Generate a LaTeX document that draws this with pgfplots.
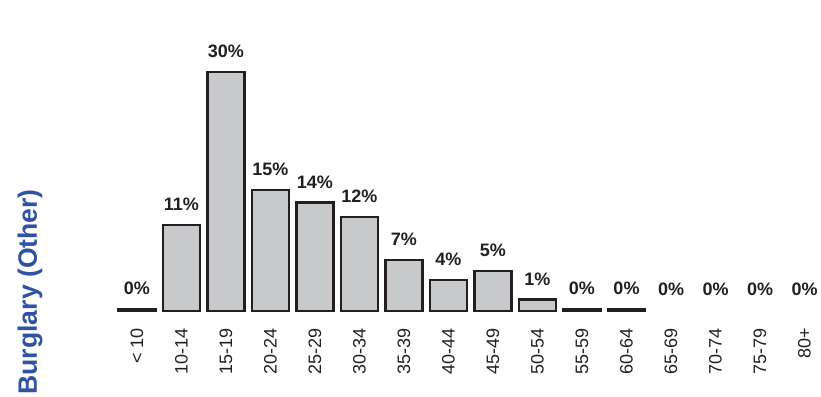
\documentclass[border=0pt]{standalone}
\usepackage{pgfplots}
\pgfplotsset{compat=1.18}
\usepackage{fontspec}
\setmainfont{Liberation Sans}
\definecolor{barfill}{RGB}{200,201,203}
\definecolor{barline}{RGB}{35,31,32}
\definecolor{titleblue}{RGB}{47,82,164}
\begin{document}
\begin{tikzpicture}
\begin{axis}[
    scale only axis,
    width=353.35pt, height=155.5pt,
    xmin=-0.5, xmax=15.37,
    ymin=0, ymax=39.04,
    clip=false,
    axis line style={draw=none},
    tick style={draw=none},
    ytick=\empty,
    xtick={0,...,15},
    xticklabels={< 10,10-14,15-19,20-24,25-29,30-34,35-39,40-44,45-49,50-54,55-59,60-64,65-69,70-74,75-79,80+},
    xticklabel style={rotate=90, anchor=east, inner sep=0pt, font=\fontsize{9}{10}\selectfont, text=barline},
    xticklabel shift=4.3pt,
    ybar, bar width=0.83, bar shift=0pt,
    point meta=explicit symbolic,
    nodes near coords,
    every node near coord/.append style={anchor=south, inner sep=0pt, yshift=6.5pt,
        font=\bfseries\fontsize{9}{10}\selectfont, text=barline},
]
\addplot[fill=barfill, draw=barline, line width=1.25pt]
    coordinates {
        (0,0.2) [0\%]
        (1,10.8) [11\%]
        (2,30) [30\%]
        (3,15.2) [15\%]
        (4,13.6) [14\%]
        (5,11.8) [12\%]
        (6,6.4) [7\%]
        (7,3.9) [4\%]
        (8,5.0) [5\%]
        (9,1.4) [1\%]
        (10,0.2) [0\%]
        (11,0.2) [0\%]
    };
\addplot[draw=none, fill=none]
    coordinates {
        (12,0.2) [0\%]
        (13,0.2) [0\%]
        (14,0.2) [0\%]
        (15,0.2) [0\%]
    };
\node[rotate=90, text=titleblue, font=\bfseries\fontsize{13.3}{15}\selectfont]
    at (axis cs:-2.402,2.385) {Burglary (Other)};
\coordinate (bl) at (axis cs:-3.076,-10.79);
\coordinate (tr) at (axis cs:15.37,39.04);
\end{axis}
\pgfresetboundingbox
\path[use as bounding box] (bl) rectangle (tr);
\end{tikzpicture}
\end{document}
